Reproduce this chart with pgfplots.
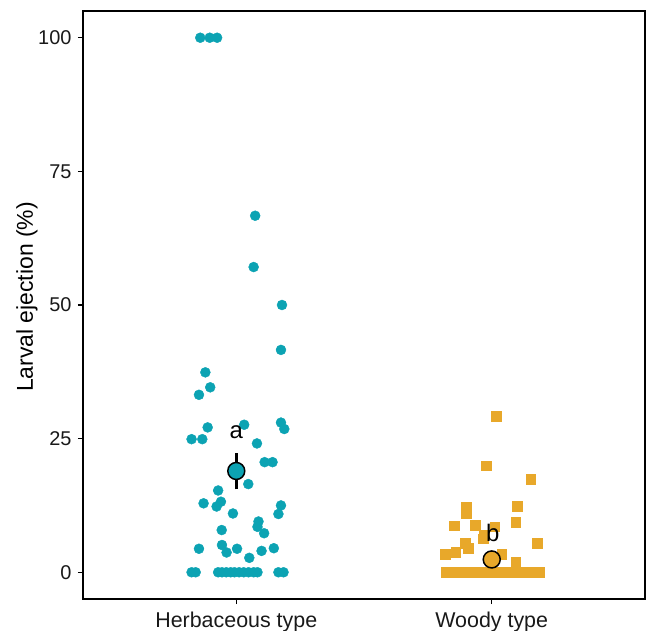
\documentclass[border=0pt]{standalone}
\usepackage{fontspec}
\setmainfont{Liberation Sans}
\usepackage{pgfplots}
\pgfplotsset{compat=1.18}
\definecolor{herb}{HTML}{0CA3B3}
\definecolor{woody}{HTML}{E8A82A}
\begin{document}
\begin{tikzpicture}
\path[use as bounding box] (-83bp,-32bp) rectangle (563bp,599bp);
\begin{axis}[
  at={(0,0)}, anchor=south west,
  scale only axis, width=562bp, height=588bp,
  xmin=0.4, xmax=2.6, ymin=-5, ymax=105,
  xtick={1,2}, xticklabels={Herbaceous type, Woody type},
  ytick={0,25,50,75,100},
  axis line style={line width=1.6bp, black},
  tick style={line width=1.2bp, black},
  tick align=outside, tickpos=left, major tick length=5bp,
  /pgf/number format/assume math mode=true,
  yticklabel style={font=\fontsize{20}{23}\selectfont, text=black!90, xshift=-3bp},
  xticklabel style={font=\fontsize{21.5}{25}\selectfont, text=black!90, yshift=-4bp},
  every axis y label/.style={at={(rel axis cs:0,0.5)}, rotate=90, anchor=center, yshift=56bp, xshift=8bp, font=\fontsize{23}{27}\selectfont},
  ylabel={Larval ejection (\%)},
  clip=false,
]
\addplot[only marks, mark=*, mark size=5bp, herb] coordinates {
(0.859,100) (0.896,100) (0.925,100)
(1.074,66.7) (1.068,57.1) (1.179,50.0) (1.175,41.6)
(0.879,37.4) (0.898,34.6) (0.854,33.2) (0.888,27.1) (1.031,27.6)
(1.175,28.0) (1.188,26.8) (0.825,24.9) (0.867,24.9) (1.081,24.1)
(1.111,20.6) (1.142,20.6) (1.047,16.5) (0.929,15.3) (0.872,12.9)
(0.940,13.2) (0.923,12.3) (1.175,12.5) (1.165,10.9) (0.987,11.0)
(1.087,9.5) (1.083,8.5) (1.109,7.3) (0.943,7.9) (0.854,4.4)
(0.944,5.1) (0.962,3.7) (1.003,4.4) (1.051,2.7) (1.099,4.0) (1.147,4.5)
(0.825,0) (0.841,0) (0.929,0) (0.944,0) (0.961,0) (0.978,0) (0.993,0)
(1.011,0) (1.029,0) (1.048,0) (1.068,0) (1.083,0) (1.165,0) (1.185,0)
};
\addplot[only marks, mark=square*, mark size=4.8bp, woody] coordinates {
(2.018,29.2) (1.979,19.9) (2.152,17.4) (1.901,12.3) (1.901,11.1)
(2.099,12.4) (2.094,9.4) (1.854,8.7) (1.936,8.8) (2.012,8.5)
(1.970,7.0) (1.966,6.3) (1.896,5.4) (1.907,4.5) (2.179,5.4)
(1.819,3.4) (1.859,3.7) (2.039,3.4) (2.094,1.9)
(1.820,0) (1.834,0) (1.847,0) (1.861,0) (1.874,0) (1.888,0) (1.901,0)
(1.915,0) (1.928,0) (1.942,0) (1.955,0) (1.969,0) (1.982,0) (1.996,0)
(2.009,0) (2.023,0) (2.036,0) (2.050,0) (2.063,0) (2.077,0) (2.090,0)
(2.104,0) (2.117,0) (2.131,0) (2.144,0) (2.158,0) (2.171,0) (2.185,0)
};
\addplot[black, line width=3bp] coordinates {(1,15.5) (1,22.4)};
\addplot[black, line width=3bp] coordinates {(2,1.5) (2,3.3)};
\addplot[only marks, mark=*, mark size=8.5bp, mark options={fill=herb, draw=black, line width=1.5bp}] coordinates {(1,18.95)};
\addplot[only marks, mark=*, mark size=8.5bp, mark options={fill=woody, draw=black, line width=1.5bp}] coordinates {(2,2.4)};
\coordinate (LA) at (axis cs:1,26.3);
\coordinate (LB) at (axis cs:2.004,7.3);
\end{axis}
\node[font=\fontsize{24}{28}\selectfont, text=black] at (LA) {a};
\node[font=\fontsize{24}{28}\selectfont, text=black] at (LB) {b};
\end{tikzpicture}
\end{document}
